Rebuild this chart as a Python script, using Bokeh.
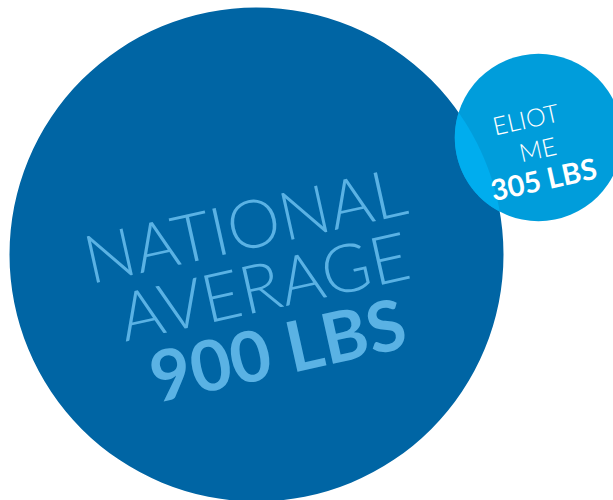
import numpy as np
from bokeh.plotting import figure
from bokeh.models import Range1d
from bokeh.core.properties import value
from bokeh.embed import file_html
from bokeh.resources import INLINE

# Data
labels = ["NATIONAL AVERAGE", "ELIOT ME"]
pounds = [900, 305]
value_labels = ["900 LBS", "305 LBS"]

# Layout (screen-like units, y up)
W, H = 613, 500
scale = 247.0 / 900.0  # radius per pound
centers_x = [256, 538]
centers_y = [246, 363]
radii = [v * scale for v in pounds]

big_color = "#0065A4"
small_color = "#009DDB"
lens_color = "#00ADEE"
big_text = "#5AB2E4"

p = figure(width=W, height=H, output_backend="svg", toolbar_location=None,
           x_range=Range1d(0, W), y_range=Range1d(0, H), min_border=0)
p.axis.visible = False
p.grid.visible = False
p.outline_line_color = None
p.background_fill_color = "white"
p.border_fill_color = "white"

p.circle(x=[centers_x[0]], y=[centers_y[0]], radius=[radii[0]], fill_color=big_color, line_color=None)
p.circle(x=[centers_x[1]], y=[centers_y[1]], radius=[radii[1]], fill_color=small_color, line_color=None)

# lens (intersection) polygon
t = np.linspace(0, 2 * np.pi, 720, endpoint=False)
sx = centers_x[1] + radii[1] * np.cos(t)
sy = centers_y[1] + radii[1] * np.sin(t)
inb = (sx - centers_x[0]) ** 2 + (sy - centers_y[0]) ** 2 <= radii[0] ** 2
bx = centers_x[0] + radii[0] * np.cos(t)
by = centers_y[0] + radii[0] * np.sin(t)
ins = (bx - centers_x[1]) ** 2 + (by - centers_y[1]) ** 2 <= radii[1] ** 2
lx = np.concatenate([sx[inb], bx[ins]])
ly = np.concatenate([sy[inb], by[ins]])
cx, cy = lx.mean(), ly.mean()
order = np.argsort(np.arctan2(ly - cy, lx - cx))
p.patch(lx[order], ly[order], fill_color=lens_color, line_color=None)

ang = 12.5
light = value("Lato Light, Lato")
bold = value("Lato")

big_words = labels[0].split(" ")
p.text(x=[244, 263], y=[277, 216], text=big_words, angle=ang, angle_units="deg",
       text_align="center", text_baseline="alphabetic", text_font=light,
       text_font_size="67px", text_color=big_text)
p.text(x=[277], y=[152], text=[value_labels[0]], angle=ang, angle_units="deg",
       text_align="center", text_baseline="alphabetic", text_font=bold,
       text_font_style="bold", text_font_size="70px", text_color=big_text)

small_words = labels[1].split(" ")
p.text(x=[525, 537], y=[382, 352], text=small_words, angle=ang, angle_units="deg",
       text_align="center", text_baseline="alphabetic", text_font=light,
       text_font_size="25px", text_color="white")
p.text(x=[543], y=[322], text=[value_labels[1]], angle=ang, angle_units="deg",
       text_align="center", text_baseline="alphabetic", text_font=bold,
       text_font_style="bold", text_font_size="29px", text_color="white")

open("out.html", "w").write(file_html(p, INLINE))
